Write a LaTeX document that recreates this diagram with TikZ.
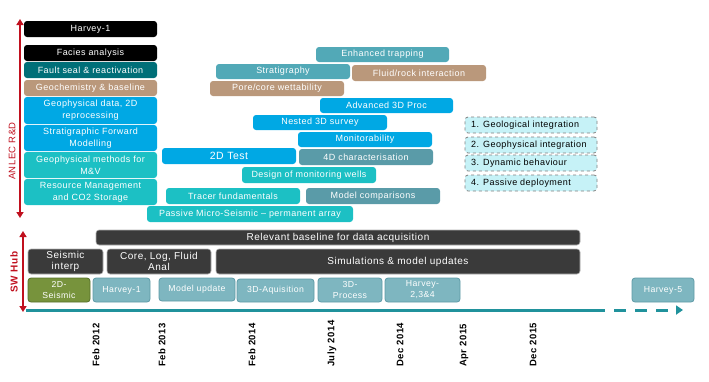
\documentclass[tikz,border=0pt]{standalone}
\usepackage{fontspec}
\setmainfont{Liberation Sans}[LetterSpace=5]
\usetikzlibrary{arrows.meta}
\definecolor{cblack}{HTML}{000000}
\definecolor{cdteal}{HTML}{006F78}
\definecolor{ctan}{HTML}{BA987B}
\definecolor{cblue}{HTML}{00A8E4}
\definecolor{cturq}{HTML}{1CC0C4}
\definecolor{cgteal}{HTML}{52A9B7}
\definecolor{cgteal2}{HTML}{5A9BA8}
\definecolor{clegf}{HTML}{C6F2F7}
\definecolor{clegd}{HTML}{808080}
\definecolor{cdark}{HTML}{3A3A3A}
\definecolor{colive}{HTML}{77933C}
\definecolor{colived}{HTML}{55702A}
\definecolor{chub}{HTML}{7EB6C0}
\definecolor{chubd}{HTML}{5E9AA6}
\definecolor{cline}{HTML}{20929C}
\definecolor{cred}{HTML}{C0101E}
\newcommand{\bx}[7]{\node[#6, minimum width={(#4-#2)*1pt}, minimum height={(#5-#3)*1pt}] (#1) at ({(#2+#4)/2},{(#3+#5)/2}) {#7};}
\tikzset{
  rbox/.style={rounded corners=3pt, text=white, inner sep=0.5pt, align=center, font=\fontsize{9}{12}\selectfont},
  legbox/.style={rounded corners=3pt, fill=clegf, draw=clegd, dashed, line width=0.8pt, inner sep=0pt},
  legtext/.style={anchor=west, inner sep=0pt, text=black, font=\fontsize{9}{10}\selectfont},
  hubbox/.style={rounded corners=3pt, text=white, inner sep=0.5pt, align=center, font=\fontsize{10}{11.5}\selectfont, fill=cdark, draw=gray!60, line width=0.6pt},
  lowbox/.style={rounded corners=3pt, text=white, inner sep=0.5pt, align=center, font=\fontsize{8.7}{11}\selectfont, fill=chub, draw=chubd, line width=0.8pt},
  datelab/.style={anchor=west, rotate=90, inner sep=0pt, font=\bfseries\fontsize{9.5}{10}\selectfont},
  redarrow/.style={cred, line width=1.8pt, {Triangle[width=7pt,length=6pt]}-{Triangle[width=7pt,length=6pt]}},
}
\begin{document}
\begin{tikzpicture}[x=1pt,y=-1pt]
\useasboundingbox (0,0) rectangle (709,381);
% ANLEC R&D arrow
\coordinate (a1) at (20,19);
\coordinate (a2) at (20,218);
\draw[redarrow] (a1) -- (a2);
\node[rotate=90, text=cred, inner sep=0pt, font=\fontsize{9.5}{11}\selectfont] (anlec) at (12,151) {ANLEC R\&D};
% left column
\bx{h1}{24}{21}{157}{37}{rbox, fill=cblack}{Harvey-1}
\bx{fa}{24}{45}{157}{61}{rbox, fill=cblack}{Facies analysis}
\bx{fs}{24}{62}{157}{78}{rbox, fill=cdteal}{Fault seal \& reactivation}
\bx{gb}{24}{80}{157}{96}{rbox, fill=ctan}{Geochemistry \& baseline}
\bx{gd}{24}{97}{157}{124}{rbox, fill=cblue}{Geophysical data, 2D\\reprocessing}
\bx{sf}{24}{125}{157}{151}{rbox, fill=cblue}{Stratigraphic Forward\\Modelling}
\bx{gm}{24}{152}{157}{178}{rbox, fill=cturq}{Geophysical methods for\\M\&V}
\bx{rm}{24}{179}{157}{205}{rbox, fill=cturq}{Resource Management\\and CO2 Storage}
% middle boxes
\bx{et}{316}{47}{449}{62}{rbox, fill=cgteal}{Enhanced trapping}
\bx{st}{216}{64}{350}{79}{rbox, fill=cgteal}{Stratigraphy}
\bx{fr}{352}{65}{486}{81}{rbox, fill=ctan}{Fluid/rock interaction}
\bx{pw}{210}{81}{344}{96}{rbox, fill=ctan}{Pore/core wettability}
\bx{ap}{320}{98}{453}{113}{rbox, fill=cblue}{Advanced 3D Proc}
\bx{ns}{253}{115}{387}{130}{rbox, fill=cblue}{Nested 3D survey}
\bx{mo}{298}{132}{432}{147}{rbox, fill=cblue}{Monitorability}
\bx{dt}{162}{148}{296}{164}{rbox, fill=cblue, font=\fontsize{10.5}{12}\selectfont}{2D Test}
\bx{fd}{299}{149}{433}{165}{rbox, fill=cgteal2}{4D characterisation}
\bx{dm}{242}{167}{376}{183}{rbox, fill=cturq}{Design of monitoring wells}
\bx{tf}{166}{188}{300}{204}{rbox, fill=cturq}{Tracer fundamentals}
\bx{mc}{306}{188}{440}{204}{rbox, fill=cgteal2}{Model comparisons}
\bx{pm}{147}{206}{353}{222}{rbox, fill=cturq}{Passive Micro-Seismic -- permanent array}
% legend
\bx{l1}{465}{117}{597}{133}{legbox}{}
\bx{l2}{465}{137}{597}{153}{legbox}{}
\bx{l3}{465}{155}{597}{171}{legbox}{}
\bx{l4}{465}{175}{597}{191}{legbox}{}
\node[legtext] (l1t) at (471,125) {1. Geological integration};
\node[legtext] (l2t) at (471,145) {2. Geophysical integration};
\node[legtext] (l3t) at (471,163) {3. Dynamic behaviour};
\node[legtext] (l4t) at (471,183) {4. Passive deployment};
% SW Hub arrow
\coordinate (s1) at (23,231);
\coordinate (s2) at (23,312);
\draw[redarrow] (s1) -- (s2);
\node[rotate=90, text=cred, inner sep=0pt, font=\bfseries\fontsize{10}{11}\selectfont] (swhub) at (14,272) {SW Hub};
% SW Hub rows
\bx{rb}{96}{230}{580}{245}{hubbox}{Relevant baseline for data acquisition}
\bx{si}{28}{249}{103}{274}{hubbox}{Seismic\\interp}
\bx{cl}{107}{249}{211}{274}{hubbox}{Core, Log, Fluid\\Anal}
\bx{sm}{216}{249}{580}{274}{hubbox}{Simulations \& model updates}
\bx{ds}{28}{278}{90}{302}{lowbox, fill=colive, draw=colived}{2D-\\Seismic}
\bx{hv1}{93}{278}{150}{302}{lowbox}{Harvey-1}
\bx{mu}{159}{278}{235}{301}{lowbox}{Model update}
\bx{aq}{237}{279}{314}{302}{lowbox}{3D-Aquisition}
\bx{pr}{318}{278}{382}{302}{lowbox}{3D-\\Process}
\bx{h234}{385}{278}{460}{302}{lowbox}{Harvey-\\2,3\&4}
\bx{h5}{632}{278}{694}{302}{lowbox}{Harvey-5}
% timeline
\coordinate (t0) at (26,310);
\coordinate (t1) at (593,310);
\coordinate (t2) at (683,310);
\draw[cline, line width=3pt] (t0) -- (t1);
\draw[cline, line width=3pt, dash pattern=on 12pt off 9pt, -{Triangle[width=9pt,length=7pt]}] (t1) -- (t2);
% dates
\node[datelab] (d1) at (96,367) {Feb 2012};
\node[datelab] (d2) at (162,367) {Feb 2013};
\node[datelab] (d3) at (252,367) {Feb 2014};
\node[datelab] (d4) at (332,367) {July 2014};
\node[datelab] (d5) at (400,367) {Dec 2014};
\node[datelab] (d6) at (464,367) {Apr 2015};
\node[datelab] (d7) at (533,367) {Dec 2015};
\end{tikzpicture}
\end{document}
